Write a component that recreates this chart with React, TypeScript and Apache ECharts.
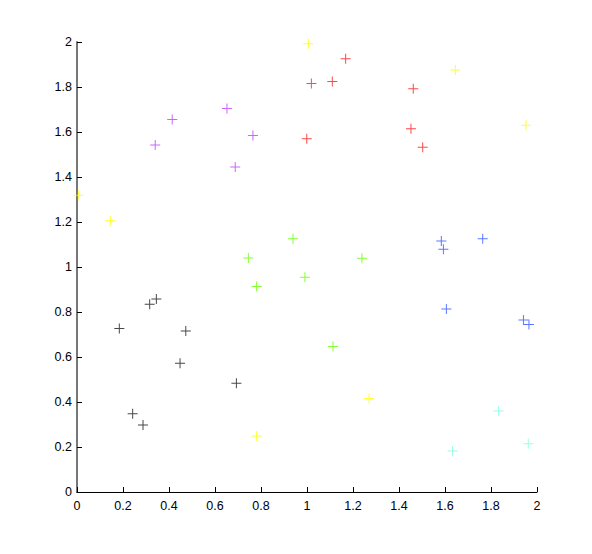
import React, { useEffect, useRef } from "react";
import * as echarts from "echarts";

const axisTicks = [0, 0.2, 0.4, 0.6, 0.8, 1, 1.2, 1.4, 1.6, 1.8, 2];

const blackPts: number[][] = [
  [0.184, 0.727], [0.316, 0.834], [0.345, 0.858], [0.473, 0.716],
  [0.448, 0.572], [0.693, 0.483], [0.242, 0.348], [0.287, 0.298],
];
const purplePts: number[][] = [
  [0.340, 1.542], [0.414, 1.656], [0.652, 1.704], [0.765, 1.585], [0.688, 1.444],
];
const redPts: number[][] = [
  [1.168, 1.926], [1.019, 1.816], [1.110, 1.825], [1.462, 1.792],
  [1.452, 1.615], [1.503, 1.532], [0.999, 1.570],
];
const yellowPts: number[][] = [
  [0.006, 1.319], [0.145, 1.206], [1.006, 1.992], [1.645, 1.876],
  [1.952, 1.630], [0.781, 0.249], [1.270, 0.416],
];
const greenPts: number[][] = [
  [0.939, 1.126], [0.745, 1.040], [1.239, 1.039], [0.781, 0.913],
  [0.991, 0.954], [1.113, 0.647],
];
const bluePts: number[][] = [
  [1.584, 1.116], [1.593, 1.079], [1.764, 1.126], [1.606, 0.813],
  [1.941, 0.764], [1.965, 0.745],
];
const cyanPts: number[][] = [
  [1.833, 0.360], [1.633, 0.182], [1.962, 0.215],
];

const groups: { data: number[][]; color: string }[] = [
  { data: blackPts, color: "#1a1a1a" },
  { data: purplePts, color: "#BF40FF" },
  { data: redPts, color: "#FF1a1a" },
  { data: yellowPts, color: "#FFFF00" },
  { data: greenPts, color: "#66FF00" },
  { data: bluePts, color: "#3355FF" },
  { data: cyanPts, color: "#80FFDD" },
];

const plus = "path://M4.5,0h1v10h-1z M0,4.5h10v1h-10z";

export default function App() {
  const ref = useRef<HTMLDivElement>(null);
  useEffect(() => {
    if (!ref.current) return;
    const chart = echarts.init(ref.current, null, { renderer: "svg" });
    const axisCommon = {
      type: "value" as const,
      min: 0,
      max: 2,
      interval: 0.2,
      splitLine: { show: false },
      axisTick: { show: true, inside: true, length: 5, lineStyle: { color: "#000" } },
      axisLabel: {
        color: "#000",
        fontSize: 12.5,
        fontFamily: "Liberation Sans, Arial, sans-serif",
        formatter: (v: number) => {
          const f = axisTicks.find((t) => Math.abs(t - v) < 1e-6);
          return f === undefined ? "" : String(f);
        },
      },
    };
    chart.setOption({
      animation: false,
      backgroundColor: "#fff",
      grid: { left: 77, right: 55, top: 42, bottom: 62, containLabel: false },
      xAxis: {
        ...axisCommon,
        axisLine: { show: true, onZero: false, lineStyle: { color: "#000", width: 1 } },
        axisLabel: { ...axisCommon.axisLabel, margin: 7 },
      },
      yAxis: {
        ...axisCommon,
        axisLine: { show: true, onZero: false, lineStyle: { color: "#777", width: 2 } },
        axisLabel: { ...axisCommon.axisLabel, margin: 5 },
      },
      series: groups.map((g) => ({
        type: "scatter",
        data: g.data,
        symbol: plus,
        symbolSize: 10,
        itemStyle: { color: g.color },
        silent: true,
      })),
    });
    return () => chart.dispose();
  }, []);
  return <div ref={ref} style={{ width: 592, height: 554, margin: -8 }} />;
}
